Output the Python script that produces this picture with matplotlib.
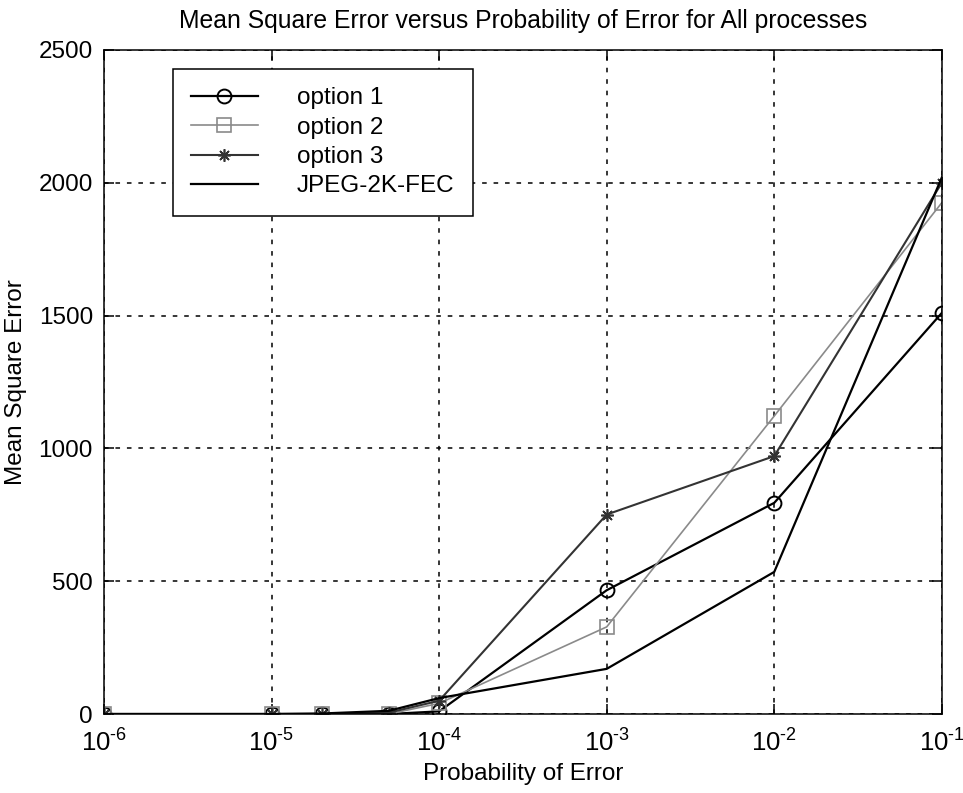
# -*- coding: utf-8 -*-
""" Mean square error versus probability of error, MATLAB style figure """
import matplotlib
matplotlib.use("Agg")
import matplotlib.pyplot as plt
from matplotlib.ticker import FixedLocator, FixedFormatter, NullLocator

# probability of error on the x axis
p_err = [1e-6, 1e-5, 2e-5, 5e-5, 1e-4, 1e-3, 1e-2, 1e-1]

# mean square error for each process
option_1 = [0, 0, 0, 0, 10, 466, 795, 1510]
option_2 = [0, 0, 0, 0, 40, 328, 1122, 1925]
option_3 = [0, 0, 0, 5, 50, 751, 971, 2000]
jpeg_2k_fec = [0, 0, 2, 12, 60, 170, 535, 2020]

x_ticks = [1e-6, 1e-5, 1e-4, 1e-3, 1e-2, 1e-1]
x_tick_labels = [r'$10^{\text{-}6}$', r'$10^{\text{-}5}$', r'$10^{\text{-}4}$',
                 r'$10^{\text{-}3}$', r'$10^{\text{-}2}$', r'$10^{\text{-}1}$']
y_ticks = [0, 500, 1000, 1500, 2000, 2500]

plt.rcParams['font.family'] = ['Liberation Sans', 'DejaVu Sans']
plt.rcParams['mathtext.fontset'] = 'custom'
plt.rcParams['mathtext.rm'] = 'Liberation Sans'
plt.rcParams['mathtext.it'] = 'Liberation Sans:italic'
plt.rcParams['mathtext.default'] = 'regular'

FS = 17.5

fig = plt.figure(figsize=(9.63, 7.93), dpi=100)
ax = fig.add_axes([0.108, 0.0996, 0.870, 0.8374])

ax.plot(p_err, option_1, color='black', lw=1.6, marker='o', ms=10,
        mfc='none', mec='black', mew=1.4, label='option 1')
ax.plot(p_err, option_2, color='#8a8a8a', lw=1.2, marker='s', ms=10,
        mfc='none', mec='#8a8a8a', mew=1.2, label='option 2')
ax.plot(p_err, option_3, color='#333333', lw=1.5, marker=(8, 2, 0), ms=9,
        mec='#333333', mew=1.2, label='option 3')
ax.plot(p_err, jpeg_2k_fec, color='black', lw=1.6, label='JPEG-2K-FEC')

ax.set_xscale('log')
ax.set_xlim(1e-6, 1e-1)
ax.set_ylim(0, 2500)
ax.xaxis.set_major_locator(FixedLocator(x_ticks))
ax.xaxis.set_major_formatter(FixedFormatter(x_tick_labels))
ax.xaxis.set_minor_locator(NullLocator())
ax.set_yticks(y_ticks)

ax.grid(True, color='black', lw=1.1, linestyle=(0, (3, 4.5)))
ax.tick_params(direction='in', length=7, width=1.1, labelsize=FS,
               top=True, right=True, pad=8)
ax.tick_params(axis='x', labelsize=18.5, pad=11)
for sp in ax.spines.values():
    sp.set_linewidth(1.1)

ax.set_title('Mean Square Error versus Probability of Error for All processes',
             fontsize=17.8, pad=16)
ax.set_xlabel('Probability of Error', fontsize=FS, labelpad=5)
ax.set_ylabel('Mean Square Error', fontsize=FS, labelpad=8)

leg = ax.legend(loc='upper left', bbox_to_anchor=(0.082, 0.971),
                borderaxespad=0, fontsize=FS, fancybox=False,
                edgecolor='black', framealpha=1, handlelength=2.75,
                handletextpad=1.6, labelspacing=0.30, borderpad=0.75)
leg.get_frame().set_linewidth(1.1)

fig.savefig('out.png', dpi=100)
